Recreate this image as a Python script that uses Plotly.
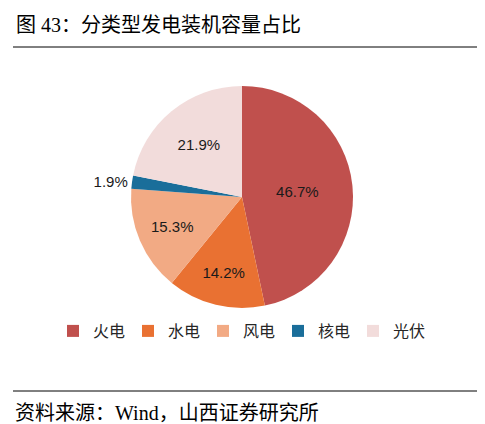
import plotly.graph_objects as go

# 分类型发电装机容量占比
categories = ['火电', '水电', '风电', '核电', '光伏']
shares = [46.7, 14.2, 15.3, 1.9, 21.9]
colors = ['#C0504D', '#E97132', '#F2AA84', '#1A6E9A', '#F2DCDB']
text_pos = ['inside', 'inside', 'inside', 'outside', 'inside']

W, H = 485, 424

fig = go.Figure()

fig.add_trace(go.Pie(
    labels=categories,
    values=shares,
    sort=False,
    direction='clockwise',
    rotation=0,
    marker=dict(colors=colors, line=dict(color='white', width=0)),
    texttemplate='%{value:.1f}%',
    textposition=text_pos,
    insidetextorientation='horizontal',
    textfont=dict(family='Liberation Sans, Arial', size=15, color='#1a1a1a'),
    hole=0,
    domain=dict(x=[122 / W, 346 / W], y=[(H - 300) / H, (H - 78) / H]),
))

fig.update_layout(
    width=W,
    height=H,
    margin=dict(l=0, r=0, t=0, b=0),
    paper_bgcolor='white',
    plot_bgcolor='white',
    showlegend=True,
    legend=dict(
        orientation='h',
        x=0.5 - 10 / W, xanchor='center',
        y=(H - 323) / H, yanchor='middle',
        font=dict(family='Noto Sans CJK SC', size=16, color='#262626'),
        itemwidth=30,
        entrywidth=30,
        entrywidthmode='pixels',
        tracegroupgap=0,
    ),
    annotations=[
        dict(text='图 43：分类型发电装机容量占比', x=6 / W, y=1 - 17 / H,
             xref='paper', yref='paper', xanchor='left', yanchor='middle',
             showarrow=False,
             font=dict(family='Liberation Serif, Noto Sans CJK SC', size=20, color='black')),
        dict(text='资料来源：Wind，山西证券研究所', x=5 / W, y=1 - 405 / H,
             xref='paper', yref='paper', xanchor='left', yanchor='middle',
             showarrow=False,
             font=dict(family='Liberation Serif, Noto Sans CJK SC', size=20, color='black')),
    ],
    shapes=[
        dict(type='line', xref='paper', yref='paper', x0=5 / W, x1=480 / W,
             y0=1 - 39 / H, y1=1 - 39 / H, line=dict(color='black', width=1)),
        dict(type='line', xref='paper', yref='paper', x0=5 / W, x1=480 / W,
             y0=1 - 383 / H, y1=1 - 383 / H, line=dict(color='black', width=1)),
    ],
)

fig.write_html('out.html')
